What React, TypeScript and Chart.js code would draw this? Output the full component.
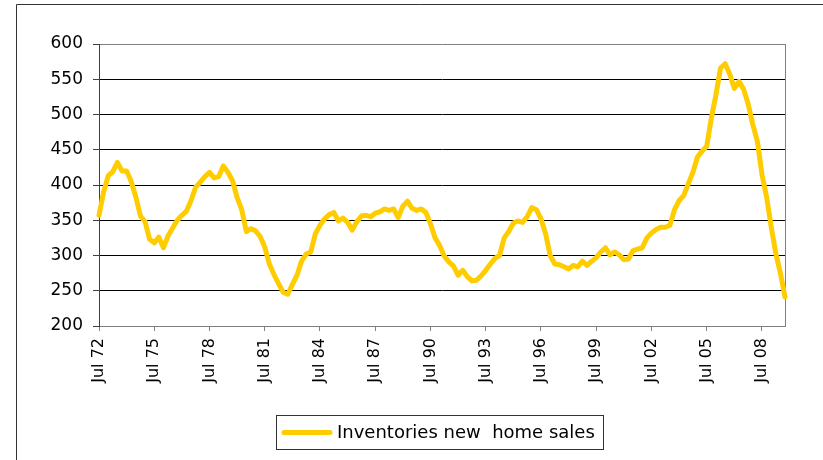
import { useEffect, useRef } from 'react';
import { Chart, registerables } from 'chart.js';

Chart.register(...registerables);

const seriesName = 'Inventories new  home sales';

// Quarterly readings, Jul 72 .. Oct 09 (thousands)
const inventories = [
  357, 390, 413, 419, 432, 420, 420, 405, 383, 356,
  348, 323, 318, 326, 311, 328, 339, 350, 357, 363,
  378, 397, 404, 412, 418, 410, 412, 427, 418, 406,
  382, 365, 334, 338, 335, 327, 312, 288, 273, 260,
  248, 245, 259, 272, 292, 302, 305, 331, 343, 352,
  358, 361, 349, 353, 347, 336, 348, 356, 357, 355,
  360, 362, 366, 364, 366, 354, 370, 377, 367, 364,
  366, 361, 345, 325, 314, 299, 291, 285, 272, 279,
  270, 264, 265, 271, 279, 288, 296, 300, 325, 334,
  346, 349, 347, 355, 368, 365, 352, 331, 300, 288,
  287, 284, 281, 286, 284, 292, 286, 292, 297, 305,
  311, 301, 305, 301, 294, 295, 307, 309, 311, 325,
  332, 337, 340, 340, 343, 365, 378, 385, 402, 418,
  440, 448, 455, 495, 528, 566, 572, 557, 537, 547,
  536, 515, 486, 462, 415, 383, 341, 303, 275, 241,
];

const monthNames = ['Jan', 'Feb', 'Mar', 'Apr', 'May', 'Jun', 'Jul', 'Aug', 'Sep', 'Oct', 'Nov', 'Dec'];
const categories = inventories.map((_, i) => {
  const m = 6 + i * 3;
  const yr = (1972 + Math.floor(m / 12)) % 100;
  return monthNames[m % 12] + ' ' + String(yr).padStart(2, '0');
});

const tickLabels = [
  'Jul 72', 'Jul 75', 'Jul 78', 'Jul 81', 'Jul 84', 'Jul 87', 'Jul 90',
  'Jul 93', 'Jul 96', 'Jul 99', 'Jul 02', 'Jul 05', 'Jul 08',
];

const yMin = 200;
const yMax = 600;
const yStep = 50;

const LINE_COLOR = '#FFCC00';
const FONT = '"DejaVu Sans", "Liberation Sans", Arial, sans-serif';

const decorPlugin = {
  id: 'decor',
  beforeDatasetsDraw(chart: any) {
    const { ctx, chartArea } = chart;
    ctx.save();
    ctx.strokeStyle = '#808080';
    ctx.lineWidth = 1;
    ctx.beginPath();
    ctx.moveTo(Math.round(chartArea.right) + 0.5, Math.round(chartArea.top));
    ctx.lineTo(Math.round(chartArea.right) + 0.5, Math.round(chartArea.bottom));
    ctx.stroke();
    ctx.restore();
  },
  afterDraw(chart: any) {
    const { ctx } = chart;
    ctx.save();
    // outer frame
    ctx.strokeStyle = '#333333';
    ctx.lineWidth = 1;
    ctx.beginPath();
    ctx.moveTo(16.5, 470);
    ctx.lineTo(16.5, 4.5);
    ctx.lineTo(830, 4.5);
    ctx.stroke();
    // legend box
    const bx = 276.5, by = 415.5, bw = 327, bh = 34;
    ctx.strokeStyle = '#333333';
    ctx.strokeRect(bx, by, bw, bh);
    const cy = by + bh / 2;
    ctx.strokeStyle = LINE_COLOR;
    ctx.lineWidth = 5;
    ctx.lineCap = 'round';
    ctx.beginPath();
    ctx.moveTo(284, cy);
    ctx.lineTo(330, cy);
    ctx.stroke();
    ctx.fillStyle = '#000000';
    ctx.font = '18px ' + FONT;
    ctx.textBaseline = 'middle';
    ctx.textAlign = 'left';
    ctx.fillText(chart.data.datasets[0].label, 337, cy + 1);
    ctx.restore();
  },
};

export default function App() {
  const ref = useRef<HTMLCanvasElement | null>(null);

  useEffect(() => {
    if (!ref.current) return;
    const chart = new Chart(ref.current, {
      type: 'line',
      data: {
        labels: categories,
        datasets: [
          {
            label: seriesName,
            data: inventories,
            borderColor: LINE_COLOR,
            backgroundColor: LINE_COLOR,
            borderWidth: 5,
            pointRadius: 0,
            tension: 0,
            borderJoinStyle: 'round',
            borderCapStyle: 'round',
            clip: false as any,
          },
        ],
      },
      options: {
        responsive: false,
        animation: false,
        devicePixelRatio: 1,
        layout: { padding: { left: 0, top: 44, right: 38, bottom: 0 } },
        plugins: {
          legend: { display: false },
          tooltip: { enabled: false },
        },
        scales: {
          x: {
            type: 'category',
            offset: false,
            afterFit(scale: any) {
              scale.height = 134;
            },
            grid: {
              drawOnChartArea: false,
              drawTicks: true,
              tickLength: 5,
              tickColor: '#808080',
            },
            border: { display: true, color: '#808080', width: 1 },
            ticks: {
              autoSkip: false,
              minRotation: 90,
              maxRotation: 90,
              padding: 7,
              color: '#000000',
              font: { family: FONT, size: 16 },
              callback(this: any, value: any) {
                const lab = this.getLabelForValue(value);
                return tickLabels.includes(lab) ? lab : null;
              },
            },
          },
          y: {
            min: yMin,
            max: yMax,
            afterFit(scale: any) {
              scale.width = 99;
            },
            grid: {
              color: (c: any) => (c.tick && (c.tick.value === yMax || c.tick.value === yMin) ? '#808080' : '#000000'),
              lineWidth: 1,
              drawTicks: true,
              tickLength: 6,
              tickColor: '#404040',
            },
            border: { display: true, color: '#404040', width: 1 },
            ticks: {
              stepSize: yStep,
              padding: 10,
              color: '#000000',
              font: { family: FONT, size: 17 },
            },
          },
        },
      },
      plugins: [decorPlugin],
    });
    return () => chart.destroy();
  }, []);

  return (
    <div style={{ position: 'fixed', left: 0, top: 0, width: 823, height: 460, background: '#ffffff' }}>
      <canvas ref={ref} width={823} height={460} style={{ display: 'block', width: 823, height: 460 }} />
    </div>
  );
}
